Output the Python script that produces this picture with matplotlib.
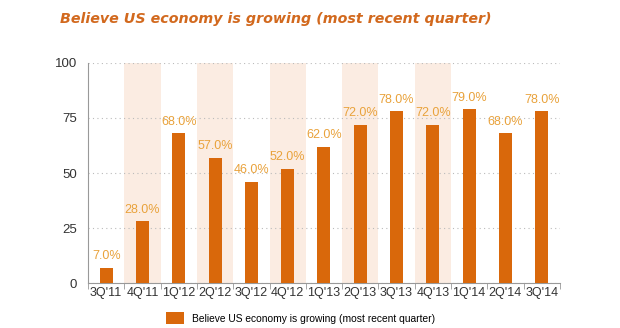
from matplotlib import pyplot as plt
from matplotlib.patches import Patch
import numpy as np

quarters = ["3Q'11", "4Q'11", "1Q'12", "2Q'12", "3Q'12", "4Q'12", "1Q'13",
            "2Q'13", "3Q'13", "4Q'13", "1Q'14", "2Q'14", "3Q'14"]
values = [7, 28, 68, 57, 46, 52, 62, 72, 78, 72, 79, 68, 78]
shaded = ["4Q'11", "2Q'12", "4Q'12", "2Q'13", "4Q'13"]

BAR = '#d9680b'
LABEL = '#e9a23b'
BAND = '#fbece2'

fig = plt.figure(figsize=(6.2, 3.28), dpi=100)
ax = fig.add_axes([0.142, 0.137, 0.761, 0.671])

x = np.arange(len(quarters))
for i, q in enumerate(quarters):
    if q in shaded:
        ax.axvspan(i - 0.5, i + 0.5, color=BAND, lw=0, zorder=0)

ax.bar(x, values, width=0.36, color=BAR, zorder=3)
for xi, v in zip(x, values):
    ax.text(xi, v + 2.5, f"{v:.1f}%", ha='center', va='bottom',
            color=LABEL, fontsize=9, family='Liberation Sans', zorder=4)

ax.set_xlim(-0.5, len(quarters) - 0.5)
ax.set_ylim(0, 100)
ax.set_yticks([0, 25, 50, 75, 100])
ax.yaxis.grid(True, linestyle=(0, (1, 3)), color='#bbbbbb', lw=0.8, zorder=1)
ax.set_xticks(x)
ax.set_xticklabels(quarters)
ax.set_xticks(np.arange(-0.5, len(quarters)), minor=True)
ax.tick_params(axis='x', which='major', length=0, pad=3)
ax.tick_params(axis='x', which='minor', length=4, color='#999999')
ax.tick_params(axis='y', length=0, pad=8)
for lab in ax.get_xticklabels():
    lab.set_family('Liberation Sans')
    lab.set_fontsize(9)
    lab.set_color('#333333')
for lab in ax.get_yticklabels():
    lab.set_family('Liberation Sans')
    lab.set_fontsize(9.5)
    lab.set_color('#333333')

for s in ['top', 'right']:
    ax.spines[s].set_visible(False)
ax.spines['left'].set_color('#999999')
ax.spines['bottom'].set_color('#999999')

fig.text(0.097, 0.943, "Believe US economy is growing (most recent quarter)",
         color='#d2691e', fontsize=10.3, fontweight='bold', style='italic',
         family='DejaVu Sans', va='center')

fig.legend(handles=[Patch(facecolor=BAR, label='Believe US economy is growing (most recent quarter)')],
           loc='center', bbox_to_anchor=(0.485, 0.03), frameon=False,
           prop={'family': 'Liberation Sans', 'size': 7.4}, handlelength=1.7, handleheight=1.4)

fig.savefig('out.png', dpi=100, facecolor='white')
